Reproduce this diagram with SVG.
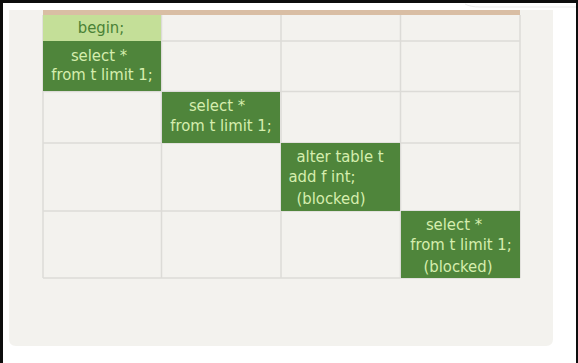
<svg xmlns="http://www.w3.org/2000/svg" width="578" height="363" viewBox="0 0 578 363">
  <defs>
    <style>
      .grid { stroke: #dcdbd7; stroke-width: 1.5; fill: none; }
      .cell-dark { fill: #4f853b; }
      .cell-light { fill: #c4df98; }
      .hand { font-family: "Liberation Sans Narrow", "DejaVu Sans Condensed", "Liberation Sans", sans-serif; font-size: 16.5px; fill: #d6eeae; }
      .hand-dark { fill: #4a8236; }
    </style>
  </defs>

  <!-- page background and frame edges -->
  <rect x="0" y="0" width="578" height="363" fill="#ffffff"/>
  <rect x="0" y="0" width="578" height="3" fill="#0d0d0d"/>
  <rect x="0" y="0" width="3" height="363" fill="#0d0d0d"/>
  <rect x="576" y="0" width="2" height="363" fill="#0d0d0d"/>
  <path d="M465 4 Q470 7 480 7 L576 7" stroke="#ebebeb" stroke-width="1" fill="none"/>

  <!-- card panel -->
  <path d="M9 10 H553 V339 Q553 346 546 346 H16 Q9 346 9 339 Z" fill="#f3f2ee"/>

  <!-- header strip -->
  <rect x="43" y="10" width="477" height="5" fill="#d9bea4"/>

  <!-- table grid -->
  <g id="grid">
    <line class="grid" x1="43" y1="15" x2="43" y2="278"/>
    <line class="grid" x1="161.5" y1="15" x2="161.5" y2="278"/>
    <line class="grid" x1="281" y1="15" x2="281" y2="278"/>
    <line class="grid" x1="400.5" y1="15" x2="400.5" y2="278"/>
    <line class="grid" x1="520" y1="15" x2="520" y2="278"/>
    <line class="grid" x1="161" y1="41" x2="520" y2="41"/>
    <line class="grid" x1="43" y1="91.5" x2="520" y2="91.5"/>
    <line class="grid" x1="43" y1="143" x2="520" y2="143"/>
    <line class="grid" x1="43" y1="211" x2="520" y2="211"/>
    <line class="grid" x1="43" y1="278" x2="520" y2="278"/>
  </g>

  <!-- filled cells -->
  <g id="cell-begin">
    <rect class="cell-light" x="43" y="15" width="118" height="26"/>
    <text class="hand hand-dark" x="101" y="33" text-anchor="middle">begin;</text>
  </g>
  <g id="cell-s1-select">
    <rect class="cell-dark" x="43" y="41" width="118" height="50"/>
    <text class="hand" x="99" y="61" text-anchor="middle">select *</text>
    <text class="hand" x="102" y="80" text-anchor="middle">from t limit 1;</text>
  </g>
  <g id="cell-s2-select">
    <rect class="cell-dark" x="162" y="92" width="118" height="51"/>
    <text class="hand" x="217" y="111" text-anchor="middle">select *</text>
    <text class="hand" x="221" y="131" text-anchor="middle">from t limit 1;</text>
  </g>
  <g id="cell-s3-alter">
    <rect class="cell-dark" x="281" y="143" width="119" height="68"/>
    <text class="hand" x="340" y="162" text-anchor="middle">alter table t</text>
    <text class="hand" x="322" y="182" text-anchor="middle">add f int;</text>
    <text class="hand" x="331" y="204" text-anchor="middle">(blocked)</text>
  </g>
  <g id="cell-s4-select">
    <rect class="cell-dark" x="401" y="211" width="119" height="67"/>
    <text class="hand" x="454" y="230" text-anchor="middle">select *</text>
    <text class="hand" x="461" y="250" text-anchor="middle">from t limit 1;</text>
    <text class="hand" x="458" y="272" text-anchor="middle">(blocked)</text>
  </g>
</svg>
